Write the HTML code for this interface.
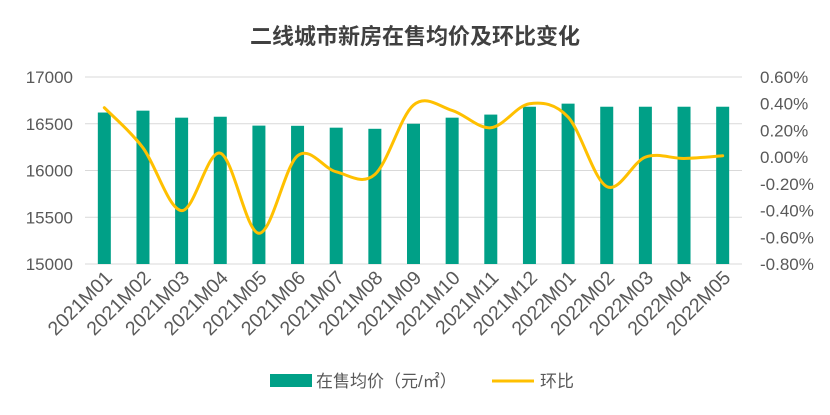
<!DOCTYPE html>
<html><head><meta charset="utf-8">
<style>
html,body{margin:0;padding:0;background:#fff;}
svg{display:block;font-family:"Liberation Sans","Noto Sans CJK SC",sans-serif;}
</style></head>
<body>
<svg id="chart" width="830" height="415" viewBox="0 0 830 415" xmlns="http://www.w3.org/2000/svg">
<text x="415" y="44" text-anchor="middle" font-size="22" font-weight="bold" fill="#404040">二线城市新房在售均价及环比变化</text>
<g id="grid"></g><g id="bars"></g><g id="line"></g><g id="axes"></g>
<g>
<rect x="270" y="374" width="42" height="13" fill="#00A087"/>
<text x="316" y="387" font-size="17" fill="#595959">在售均价（元/㎡）</text>
<line x1="492" y1="381" x2="534" y2="381" stroke="#FFC000" stroke-width="3"/>
<text x="540" y="387" font-size="17" fill="#595959">环比</text>
</g>
</svg>
<script>
const categories=["2021M01","2021M02","2021M03","2021M04","2021M05","2021M06","2021M07","2021M08","2021M09","2021M10","2021M11","2021M12","2022M01","2022M02","2022M03","2022M04","2022M05"];
const prices=[16620,16640,16565,16575,16480,16478,16458,16446,16500,16565,16598,16682,16715,16682,16682,16682,16682];
const mom=[0.37,0.07,-0.40,0.03,-0.57,0.01,-0.11,-0.13,0.39,0.35,0.22,0.40,0.30,-0.22,0.00,-0.01,0.01];
const leftTicks=[15000,15500,16000,16500,17000];
const rightTicks=[-0.8,-0.6,-0.4,-0.2,0,0.2,0.4,0.6];

const NS="http://www.w3.org/2000/svg";
const X0=85,X1=742,Y0=264,Y1=77;
const n=categories.length;
const step=(X1-X0)/n;
const xc=i=>X0+step*(i+0.5);
const yL=v=>Y0-(v-15000)/2000*(Y0-Y1);
const yR=v=>Y0-(v+0.8)/1.4*(Y0-Y1);
function mk(tag,attrs,parent){const e=document.createElementNS(NS,tag);for(const k in attrs)e.setAttribute(k,attrs[k]);document.getElementById(parent).appendChild(e);return e;}

leftTicks.forEach(t=>{
  const g=mk("line",{x1:X0,x2:X1,y1:yL(t),y2:yL(t),stroke:"#D9D9D9","stroke-width":1},"grid");
  
  
  const l=mk("text",{x:X0-12,y:yL(t)+6,"text-anchor":"end","font-size":17,fill:"#595959"},"axes");
  l.textContent=t;
  
  
});
rightTicks.forEach(t=>{
  const l=mk("text",{x:X1+18,y:yR(t)+6,"text-anchor":"start","font-size":17,fill:"#595959"},"axes");
  l.textContent=t.toFixed(2)+"%";
  
  
});
const bw=13;
prices.forEach((v,i)=>{
  const r=mk("rect",{x:xc(i)-bw/2,y:yL(v),width:bw,height:Y0-yL(v),fill:"#00A087"},"bars");
  
  
  const lx=xc(i)+9,ly=Y0+15;
  const l=mk("text",{x:lx,y:ly,"text-anchor":"end","font-size":19.5,fill:"#595959",transform:`rotate(-45 ${lx} ${ly})`},"axes");
  l.textContent=categories[i];
  
  
});
const pts=mom.map((v,i)=>[xc(i),yR(v)]);
let d=`M${pts[0][0]},${pts[0][1]}`;
for(let i=0;i<pts.length-1;i++){
  const p0=pts[Math.max(0,i-1)],p1=pts[i],p2=pts[i+1],p3=pts[Math.min(pts.length-1,i+2)];
  const c1=[p1[0]+(p2[0]-p0[0])/6,p1[1]+(p2[1]-p0[1])/6];
  const c2=[p2[0]-(p3[0]-p1[0])/6,p2[1]-(p3[1]-p1[1])/6];
  d+=` C${c1[0]},${c1[1]} ${c2[0]},${c2[1]} ${p2[0]},${p2[1]}`;
}
const path=mk("path",{d:d,fill:"none",stroke:"#FFC000","stroke-width":3,"stroke-linecap":"round"},"line");


</script>
</body></html>
